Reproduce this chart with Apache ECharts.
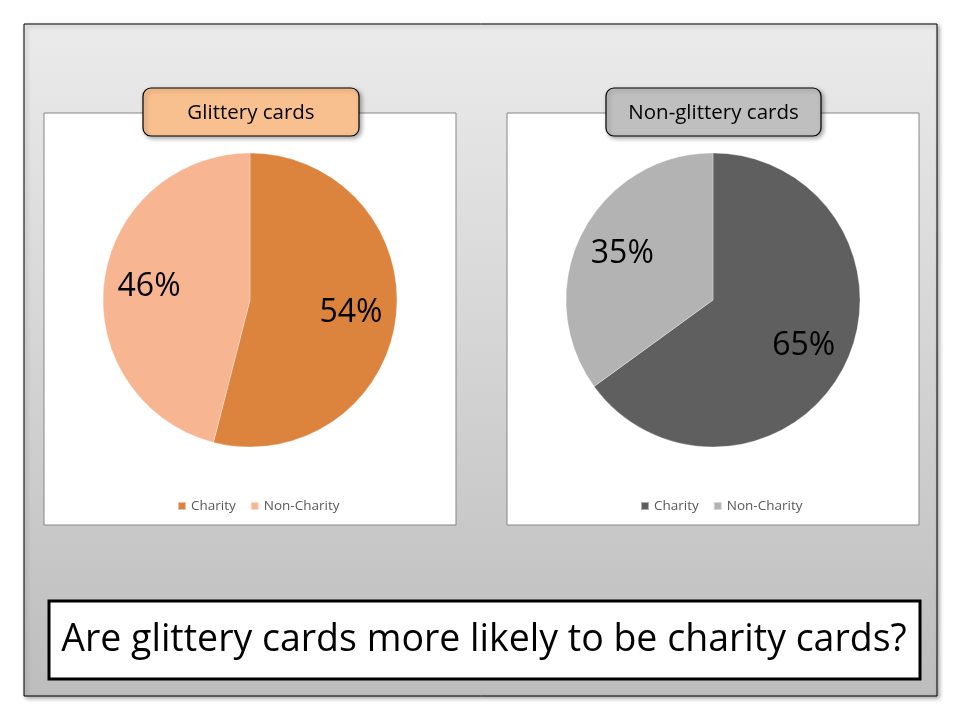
<!DOCTYPE html>
<html>
<head>
<meta charset="utf-8">
<title>Glittery cards</title>
<script src="https://cdn.jsdelivr.net/npm/echarts@6/dist/echarts.min.js"></script>
<style>
  html, body { margin: 0; padding: 0; background: #ffffff; }
  #container { width: 960px; height: 720px; }
</style>
</head>
<body>
<div id="container"></div>
<script>
// data
var categories = ['Charity', 'Non-Charity'];
var chartTitles = ['Glittery cards', 'Non-glittery cards'];
var glitteryValues = [54, 46];
var nonGlitteryValues = [65, 35];
var question = 'Are glittery cards more likely to be charity cards?';

var font = '"Open Sans", "DejaVu Sans", sans-serif';
var centers = [[250, 300], [713, 300]];
var pieRadius = 147;
var glitteryColors = ['#dc843e', '#f8b592'];
var plainColors = ['#5f5f5f', '#b3b3b3'];

var chart = echarts.init(document.getElementById('container'), null, { renderer: 'canvas' });

function panel(x, titleX, titleW, titleFill, title) {
    return [
        {
            type: 'rect',
            shape: { x: x, y: 113, width: 412, height: 412 },
            style: { fill: '#ffffff', stroke: '#868686', lineWidth: 1 },
            z: -5
        },
        {
            type: 'rect',
            shape: { x: titleX, y: 88, width: titleW, height: 48, r: 8 },
            style: {
                fill: titleFill, stroke: '#000000', lineWidth: 1.2,
                shadowBlur: 4, shadowOffsetX: 2, shadowOffsetY: 2, shadowColor: 'rgba(0,0,0,0.35)'
            },
            z: 5
        },
        {
            type: 'text',
            x: titleX + titleW / 2,
            y: 113,
            style: {
                text: title, fill: '#000000', font: '20.5px ' + font,
                align: 'center', verticalAlign: 'middle'
            },
            z: 6
        }
    ];
}

function pieSeries(idx, values, colors) {
    return {
        name: chartTitles[idx],
        type: 'pie',
        center: centers[idx],
        radius: [0, pieRadius],
        startAngle: 90,
        clockwise: true,
        animation: false,
        silent: true,
        itemStyle: { borderWidth: 0.6, borderColor: 'rgba(255,255,255,0.5)' },
        label: {
            show: true,
            position: 'inside',
            formatter: '{c}%',
            color: '#000000',
            fontFamily: font,
            fontSize: 32
        },
        labelLine: { show: false },
        // push labels a bit further out from the centre than the default half radius
        labelLayout: function (params) {
            var c = centers[idx];
            var lx = params.labelRect.x + params.labelRect.width / 2;
            var ly = params.labelRect.y + params.labelRect.height / 2;
            return { dx: (lx - c[0]) * 0.33, dy: (ly - c[1]) * 0.33 };
        },
        data: categories.map(function (name, i) {
            return { name: name, value: values[i], itemStyle: { color: colors[i] } };
        })
    };
}

function legendFor(left, colors) {
    return {
        orient: 'horizontal',
        left: left,
        top: 494,
        itemWidth: 8,
        itemHeight: 8,
        itemGap: 14,
        icon: 'rect',
        selectedMode: false,
        textStyle: { color: '#595959', fontFamily: font, fontSize: 13.5 },
        data: categories.map(function (name, i) {
            return { name: name, itemStyle: { color: colors[i] } };
        })
    };
}

var option = {
    backgroundColor: '#ffffff',
    animation: false,
    legend: [
        legendFor(172, glitteryColors),
        legendFor(635, plainColors)
    ],
    graphic: [
        {
            type: 'rect',
            shape: { x: 24, y: 24, width: 913, height: 672 },
            style: {
                fill: new echarts.graphic.LinearGradient(0, 0, 0, 1, [
                    { offset: 0, color: '#ebebeb' },
                    { offset: 1, color: '#bdbdbd' }
                ]),
                stroke: '#000000', lineWidth: 1,
                shadowBlur: 4, shadowOffsetX: 2, shadowOffsetY: 2, shadowColor: 'rgba(0,0,0,0.35)'
            },
            z: -10
        }
    ].concat(
        panel(44, 143, 216, '#f9c08f', chartTitles[0]),
        panel(507, 606, 215, '#bfbfbf', chartTitles[1]),
        [
            {
                type: 'rect',
                shape: { x: 49, y: 601, width: 871, height: 78 },
                style: { fill: '#ffffff', stroke: '#000000', lineWidth: 3 },
                z: 5
            },
            {
                type: 'text',
                x: 484,
                y: 640,
                style: {
                    text: question, fill: '#000000', font: '37.5px ' + font,
                    align: 'center', verticalAlign: 'middle'
                },
                z: 6
            }
        ]
    ),
    series: [
        pieSeries(0, glitteryValues, glitteryColors),
        pieSeries(1, nonGlitteryValues, plainColors)
    ]
};

chart.setOption(option);
</script>
</body>
</html>
